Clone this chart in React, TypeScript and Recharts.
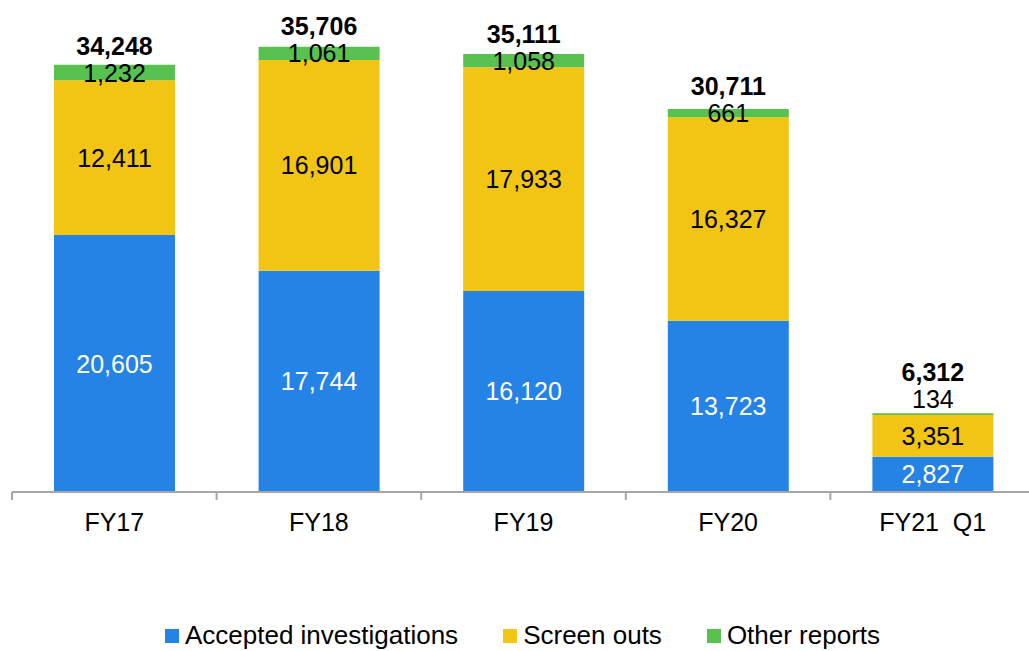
import React from 'react';
import { BarChart, Bar, XAxis, YAxis, LabelList, Legend } from 'recharts';

const categories = ['FY17', 'FY18', 'FY19', 'FY20', 'FY21  Q1'];
const accepted = [20605, 17744, 16120, 13723, 2827];
const screenOuts = [12411, 16901, 17933, 16327, 3351];
const otherReports = [1232, 1061, 1058, 661, 134];

const COLORS = { accepted: '#2683E6', screen: '#F2C413', other: '#58C150' };
const FONT = '"Liberation Sans", Arial, sans-serif';

const CHART_W = 1035;
const CHART_H = 651;
const MARGIN = { top: 43, right: 0, left: 12, bottom: 119 };
const BAND = (CHART_W - MARGIN.left - MARGIN.right) / categories.length;

const data = categories.map((name, i) => ({
  name,
  accepted: accepted[i],
  screen: screenOuts[i],
  other: otherReports[i],
  total: accepted[i] + screenOuts[i] + otherReports[i],
}));

const fmt = (v: number) => v.toLocaleString('en-US');

const centerLabel = (color: string) => (props: any) => {
  const { x, y, width, height, value } = props;
  return (
    <text x={x + width / 2} y={y + height / 2} fill={color} fontSize={25} fontFamily={FONT}
      textAnchor="middle" dominantBaseline="central">{fmt(value)}</text>
  );
};

// small segments get their label pushed above the bar
const otherY = (y: number, height: number) => (height < 5 ? y - 14 : y + height / 2);

const OtherLabel = (props: any) => {
  const { x, y, width, height, value } = props;
  return (
    <text x={x + width / 2} y={otherY(y, height)} fill="#000" fontSize={25} fontFamily={FONT}
      textAnchor="middle" dominantBaseline="central">{fmt(value)}</text>
  );
};

const TotalLabel = (props: any) => {
  const { x, y, width, height, index } = props;
  return (
    <text x={x + width / 2} y={otherY(y, height) - 27} fill="#000" fontSize={25} fontWeight="bold"
      fontFamily={FONT} textAnchor="middle" dominantBaseline="central">{fmt(data[index].total)}</text>
  );
};

const AxisTick = (props: any) => {
  const { x, y, payload } = props;
  const left = x - BAND / 2;
  return (
    <g>
      <line x1={left} x2={left} y1={y - 8} y2={y} stroke="#A6A6A6" strokeWidth={2} />
      <text x={x} y={y + 22} fill="#000" fontSize={25} fontFamily={FONT} textAnchor="middle"
        dominantBaseline="central" style={{ whiteSpace: 'pre' }}>{payload.value}</text>
    </g>
  );
};

const legendItems = [
  { label: 'Accepted investigations', color: COLORS.accepted },
  { label: 'Screen outs', color: COLORS.screen },
  { label: 'Other reports', color: COLORS.other },
];

const LegendContent = () => (
  <div style={{ display: 'flex', justifyContent: 'center', gap: 45, fontFamily: FONT, fontSize: 26 }}>
    {legendItems.map((it) => (
      <div key={it.label} style={{ display: 'flex', alignItems: 'center' }}>
        <span style={{ width: 14, height: 14, background: it.color, marginRight: 6, display: 'inline-block' }} />
        <span style={{ color: '#000' }}>{it.label}</span>
      </div>
    ))}
  </div>
);

export default function App() {
  return (
    <div style={{ position: 'absolute', left: 0, top: 0, width: 1029, height: 651, overflow: 'hidden', background: '#fff' }}>
      <BarChart width={CHART_W} height={CHART_H} data={data} margin={MARGIN}>
        <XAxis dataKey="name" axisLine={{ stroke: '#A6A6A6', strokeWidth: 2 }} tickLine={false}
          tickSize={8} tickMargin={0} height={40} interval={0} tick={<AxisTick />} />
        <YAxis hide domain={[0, 36000]} />
        <Legend verticalAlign="middle" content={<LegendContent />}
          wrapperStyle={{ top: 620, left: 8, width: 1029 }} />
        <Bar dataKey="accepted" name="Accepted investigations" stackId="a" fill={COLORS.accepted}
          barSize={121} isAnimationActive={false}>
          <LabelList dataKey="accepted" content={centerLabel('#fff')} />
        </Bar>
        <Bar dataKey="screen" name="Screen outs" stackId="a" fill={COLORS.screen}
          barSize={121} isAnimationActive={false}>
          <LabelList dataKey="screen" content={centerLabel('#000')} />
        </Bar>
        <Bar dataKey="other" name="Other reports" stackId="a" fill={COLORS.other}
          barSize={121} isAnimationActive={false}>
          <LabelList dataKey="other" content={<OtherLabel />} />
          <LabelList dataKey="total" content={<TotalLabel />} />
        </Bar>
      </BarChart>
    </div>
  );
}
